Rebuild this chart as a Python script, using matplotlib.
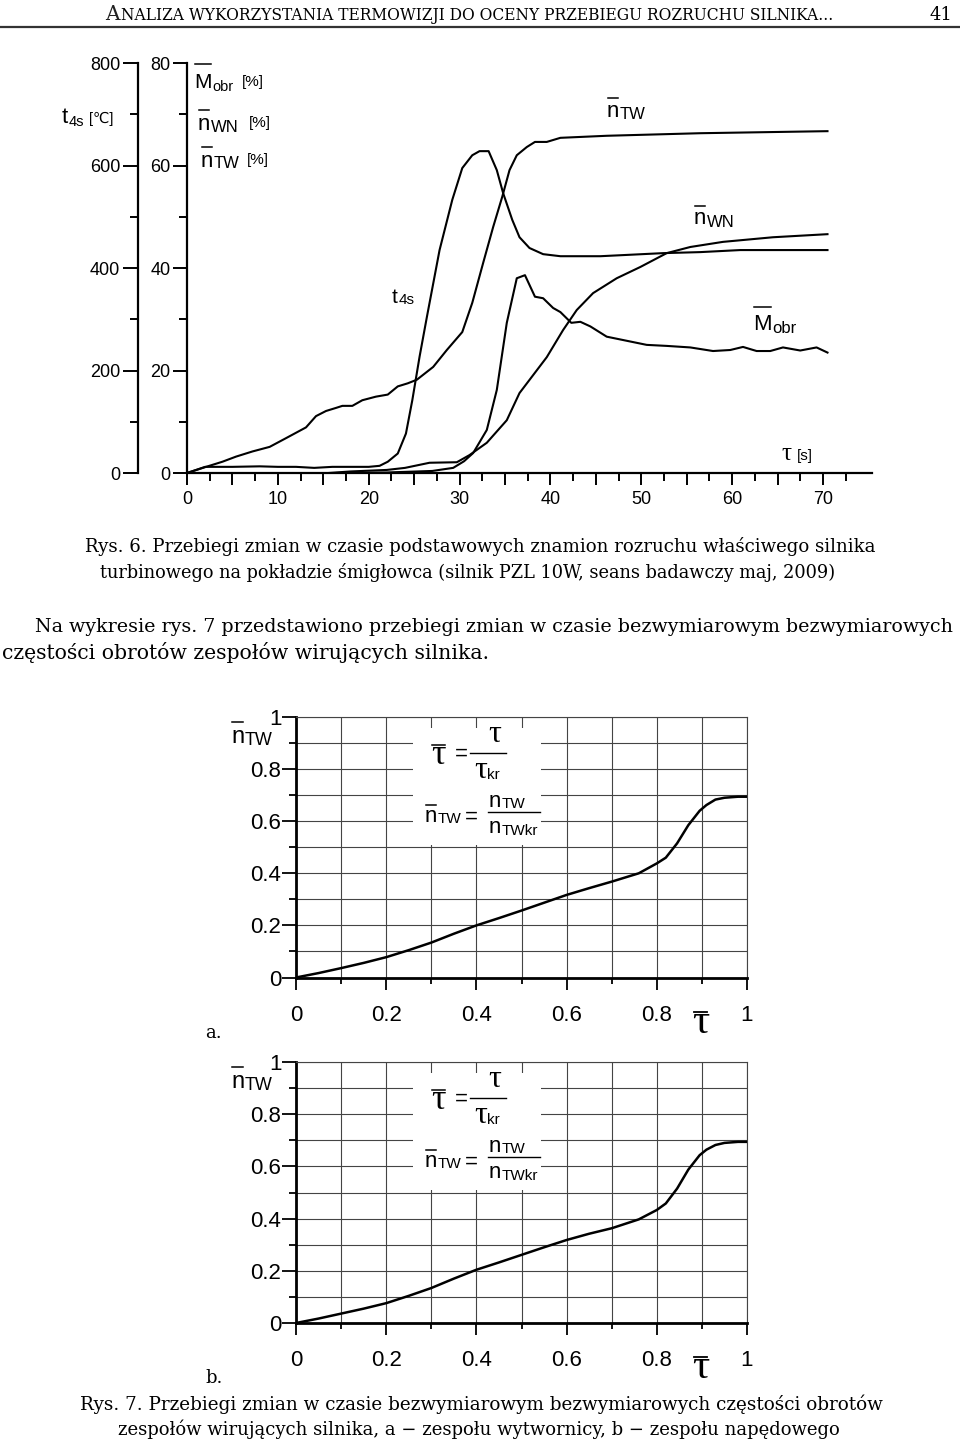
import numpy as np
import matplotlib
matplotlib.use('Agg')
import matplotlib.pyplot as plt
from matplotlib.lines import Line2D
from matplotlib.patches import Rectangle

SANS = ['Liberation Sans', 'DejaVu Sans']
SERIF = ['DejaVu Serif']
GREEK = ['Liberation Serif', 'DejaVu Serif']
plt.rcParams['font.family'] = SANS

# --- Rys. 6 data (time [s]) ---
t4s_time = [0, 2, 5, 8, 10, 12, 14, 16, 18, 20, 21.2, 22.1, 23.2, 24.1, 24.8, 25.6, 26.4,
            27.8, 29.2, 30.3, 31.4, 32.2, 33.2, 34.1, 34.8, 35.8, 36.6, 37.7, 39.2, 41.1,
            45.5, 52.4, 56.5, 60.9, 70.5]
t4s_temp = [0, 12, 12, 13, 12, 12, 10, 12, 12, 12, 14, 22, 38, 77, 142, 227, 304,
            435, 533, 595, 620, 628, 628, 591, 546, 494, 460, 439, 427, 423,
            423, 429, 431, 435, 435]  # [C]

ntw_time = [0, 2.1, 3.9, 5.4, 7.2, 9.1, 10.9, 13.1, 14.2, 15.3, 16.4, 17.1, 18.2, 19.3,
            20.8, 22.1, 23.2, 24.3, 25.3, 27.1, 28.6, 30.3, 31.4, 32.6, 33.7, 34.7, 35.5,
            36.3, 37.4, 38.3, 39.6, 41.1, 46.2, 56.5, 70.5]
ntw_pct = [0, 1.2, 2.2, 3.2, 4.2, 5.1, 6.8, 8.9, 11.1, 12.1, 12.7, 13.1, 13.1, 14.2,
           14.9, 15.3, 16.9, 17.5, 18.2, 20.7, 24.0, 27.5, 33.2, 41.0, 48.0, 53.9, 59.1,
           62.0, 63.6, 64.6, 64.6, 65.4, 65.8, 66.3, 66.7]

nwn_time = [15.6, 18, 22, 24, 26.7, 29.7, 31.1, 33.0, 35.2, 36.6, 38.1, 39.6, 41.4, 42.9,
            44.7, 47.3, 49.9, 52.8, 55.4, 59.0, 64.5, 70.5]
nwn_pct = [0, 0.3, 0.6, 1.0, 2.0, 2.1, 3.5, 5.9, 10.3, 15.6, 19.1, 22.6, 27.9, 31.8,
           35.1, 38.0, 40.2, 42.9, 44.1, 45.1, 46.0, 46.6]

mobr_time = [16.5, 22, 27, 29.3, 30.5, 31.5, 33.0, 34.1, 35.2, 36.3, 37.2, 38.3, 39.2, 40.3,
             41.1, 42.3, 43.3, 44.4, 46.2, 48.4, 50.6, 52.8, 55.4, 57.9, 59.8, 61.2, 62.7,
             64.2, 65.6, 67.5, 69.3, 70.5]
mobr_pct = [0, 0.1, 0.4, 1.0, 2.3, 3.9, 8.4, 16.2, 29.3, 38.0, 38.6, 34.4, 34.1, 32.2,
            31.4, 29.3, 29.5, 28.6, 26.6, 25.8, 25.0, 24.8, 24.5, 23.8, 24.0, 24.6, 23.8,
            23.8, 24.5, 23.9, 24.5, 23.5]

# --- Rys. 7 data (dimensionless) ---
tau_a = [0, 0.05, 0.1, 0.15, 0.2, 0.25, 0.3, 0.35, 0.4, 0.45, 0.5, 0.55, 0.6, 0.65, 0.7,
         0.76, 0.8, 0.82, 0.845, 0.87, 0.895, 0.91, 0.93, 0.95, 0.98, 1.0]
ntw_a = [0, 0.017, 0.036, 0.056, 0.078, 0.105, 0.134, 0.168, 0.2, 0.228, 0.257, 0.287,
         0.317, 0.343, 0.368, 0.40, 0.438, 0.46, 0.515, 0.585, 0.64, 0.662, 0.683, 0.69,
         0.694, 0.694]
tau_b = [0, 0.05, 0.1, 0.15, 0.2, 0.25, 0.3, 0.35, 0.4, 0.45, 0.5, 0.55, 0.6, 0.65, 0.7,
         0.76, 0.8, 0.82, 0.845, 0.87, 0.895, 0.91, 0.93, 0.95, 0.98, 1.0]
ntw_b = [0, 0.017, 0.036, 0.055, 0.076, 0.104, 0.134, 0.17, 0.204, 0.232, 0.261, 0.29,
         0.318, 0.342, 0.363, 0.397, 0.433, 0.458, 0.515, 0.588, 0.643, 0.664, 0.682,
         0.69, 0.694, 0.694]

W, H = 960, 1442
fig = plt.figure(figsize=(9.6, 14.42), dpi=100)
renderer = fig.canvas.get_renderer()


def fx(x):
    return x / W


def fy(y):
    return 1 - y / H


def txt(x, y, s, size, family=SANS, **kw):
    return fig.text(fx(x), fy(y), s, fontsize=size, family=family,
                    ha='left', va='baseline', **kw)


def hline(x0, x1, y, lw=1.2, color='black'):
    fig.add_artist(Line2D([fx(x0), fx(x1)], [fy(y), fy(y)], color=color, lw=lw,
                          transform=fig.transFigure))


def name(x, y, base, sub, size, subsize, bar=None, subdy=2, family=SANS, subfamily=SANS):
    t = txt(x, y, base, size, family)
    bb = t.get_window_extent(renderer)
    if bar is not None:
        hline(bb.x0 + 1, bb.x1 - 1, bar, lw=1.1)
    if sub:
        s = txt(bb.x1 + 0.5, y + subdy, sub, subsize, subfamily)
        return s.get_window_extent(renderer).x1
    return bb.x1


def fit(x0, x1, y, s, size=13, family=SERIF):
    t = txt(x0, y, s, size, family)
    w = t.get_window_extent(renderer).width
    t.set_fontsize(size * (x1 - x0) / w)
    return t


# ---------------- page header ----------------
a = txt(105, 20, 'A', 14.5, SERIF, color='#222')
fit(a.get_window_extent(renderer).x1 + 1, 840, 20,
    'NALIZA WYKORZYSTANIA TERMOWIZJI DO OCENY PRZEBIEGU ROZRUCHU SILNIKA...', 10.5)
fit(930, 953, 20, '41', 14)
hline(0, 960, 27, lw=1.6, color='#333')

# ---------------- Rys. 6 ----------------
ax = fig.add_axes([fx(187), fy(473), (872 - 187) / W, (473 - 63) / H])
ax.set_xlim(0, 75.4)
ax.set_ylim(0, 80)
for s in ['top', 'right']:
    ax.spines[s].set_visible(False)
for s in ['left', 'bottom']:
    ax.spines[s].set_linewidth(1.6)
xmaj = np.arange(0, 75, 5)
ax.set_xticks(xmaj, labels=[str(v) if v % 10 == 0 else '' for v in xmaj])
ax.set_xticks(np.arange(2.5, 75, 5), minor=True)
ax.set_yticks([0, 20, 40, 60, 80])
ax.set_yticks([10, 30, 50, 70], minor=True)
ax.tick_params(axis='x', which='major', direction='out', length=8.6, width=1.4, pad=4.5,
               labelsize=13)
ax.tick_params(axis='x', which='minor', direction='out', length=5.8, width=1.4)
ax.tick_params(axis='y', which='major', direction='out', length=10, width=1.4, pad=2,
               labelsize=13)
ax.tick_params(axis='y', which='minor', direction='out', length=5.8, width=1.4)

ax2 = ax.twinx()
ax2.set_ylim(0, 800)
for s in ['top', 'right', 'bottom']:
    ax2.spines[s].set_visible(False)
ax2.spines['left'].set_visible(True)
ax2.spines['left'].set_position(('outward', 49 * 0.72))
ax2.spines['left'].set_linewidth(1.6)
ax2.yaxis.tick_left()
ax2.set_yticks([0, 200, 400, 600, 800])
ax2.set_yticks([100, 300, 500, 700], minor=True)
ax2.tick_params(axis='y', which='major', direction='out', length=10.8, width=1.4, pad=2,
                labelsize=13)
ax2.tick_params(axis='y', which='minor', direction='out', length=5.8, width=1.4)

ax.plot(ntw_time, ntw_pct, color='black', lw=1.5)
ax.plot(nwn_time, nwn_pct, color='black', lw=1.5)
ax.plot(mobr_time, mobr_pct, color='black', lw=1.5)
ax2.plot(t4s_time, t4s_temp, color='black', lw=1.5)

# axis titles
name(62, 123, 't', '4s', 16, 10.5, subdy=3)
txt(89, 123, '[℃]', 10.5)
name(194, 88, 'M', 'obr', 15, 10.5, bar=64, subdy=3)
txt(242, 86, '[%]', 11)
name(198, 130, 'n', 'WN', 16, 12, bar=110, subdy=2)
txt(249, 127, '[%]', 11)
name(201, 167, 'n', 'TW', 16, 12, bar=147, subdy=1)
txt(247, 164, '[%]', 11)
# curve labels
name(607, 117, 'n', 'TW', 16, 12, bar=98, subdy=2)
name(694, 224, 'n', 'WN', 16, 12, bar=206, subdy=3)
name(753, 330, 'M', 'obr', 16, 12, bar=307, subdy=3)
name(392, 303, 't', '4s', 15, 11, subdy=1)
txt(781, 460, 'τ', 18, GREEK)
txt(797, 460, '[s]', 11)

# captions
fit(85, 875, 552, 'Rys. 6. Przebiegi zmian w czasie podstawowych znamion rozruchu właściwego silnika')
fit(100, 835, 578, 'turbinowego na pokładzie śmigłowca (silnik PZL 10W, seans badawczy maj, 2009)')
fit(35, 948, 632, 'Na wykresie rys. 7 przedstawiono przebiegi zmian w czasie bezwymiarowym bezwymiarowych')
fit(2, 487, 659, 'częstości obrotów zespołów wirujących silnika.')


# ---------------- Rys. 7 ----------------
def nchart(top, bottom, tau, ntw, dy, tag):
    bx = fig.add_axes([fx(296), fy(bottom), (747 - 296) / W, (bottom - top) / H])
    bx.set_xlim(0, 1)
    bx.set_ylim(0, 1)
    maj = np.round(np.arange(0, 1.01, 0.2), 1)
    mnr = np.round(np.arange(0.1, 1.0, 0.2), 1)
    labs = ['0', '0.2', '0.4', '0.6', '0.8', '1']
    bx.set_xticks(maj, labels=labs)
    bx.set_yticks(maj, labels=labs)
    bx.set_xticks(mnr, minor=True)
    bx.set_yticks(mnr, minor=True)
    bx.grid(True, which='both', color='#444', lw=0.8)
    bx.set_axisbelow(True)
    for s in ['top', 'right']:
        bx.spines[s].set_color('#444')
        bx.spines[s].set_linewidth(0.8)
    for s in ['left', 'bottom']:
        bx.spines[s].set_linewidth(2.0)
    bx.tick_params(axis='y', which='major', direction='out', length=10, width=1.3,
                   pad=0.5, labelsize=16)
    bx.tick_params(axis='y', which='minor', direction='out', length=5, width=1.3)
    bx.tick_params(axis='x', which='major', direction='out', length=8.5, width=1.3,
                   pad=11, labelsize=16)
    bx.tick_params(axis='x', which='minor', direction='out', length=4.5, width=1.3)
    bx.add_patch(Rectangle((0.26, 0.508), 0.284, 0.45, facecolor='white',
                           edgecolor='none', zorder=1))
    bx.plot(tau, ntw, color='black', lw=1.8, zorder=3)

    # formula box
    t = txt(431, 764 + dy, 'τ', 26, GREEK)
    bb = t.get_window_extent(renderer)
    hline(bb.x0 + 1, bb.x1 - 1, 745 + dy, lw=1.1)
    txt(455, 760 + dy, '=', 16)
    txt(488, 742 + dy, 'τ', 23, GREEK)
    hline(470, 506, 753 + dy, lw=1.0)
    name(474, 778 + dy, 'τ', 'kr', 23, 11, subdy=1, family=GREEK)
    name(425, 822 + dy, 'n', 'TW', 16, 11, bar=805 + dy, subdy=1)
    txt(465, 823 + dy, '=', 16)
    name(489, 807 + dy, 'n', 'TW', 16, 11, subdy=1)
    hline(488, 540, 812 + dy, lw=1.0)
    name(489, 833 + dy, 'n', 'TWkr', 16, 11, subdy=2)

    # axis labels
    name(231, 743 + dy, 'n', 'TW', 17, 13, bar=722 + dy, subdy=2)
    t = txt(692, 1033 + dy, 'τ', 31, GREEK)
    bb = t.get_window_extent(renderer)
    hline(bb.x0 + 2, bb.x1 - 2, 1012 + dy, lw=1.3)
    txt(205, 1038 + dy, tag, 13, SERIF)


nchart(717, 977.5, tau_a, ntw_a, 0, 'a.')
nchart(1062, 1323, tau_b, ntw_b, 345, 'b.')

fit(80, 880, 1410, 'Rys. 7. Przebiegi zmian w czasie bezwymiarowym bezwymiarowych częstości obrotów')
fit(118, 840, 1435, 'zespołów wirujących silnika, a − zespołu wytwornicy, b − zespołu napędowego')

fig.savefig('out.png', dpi=100)
